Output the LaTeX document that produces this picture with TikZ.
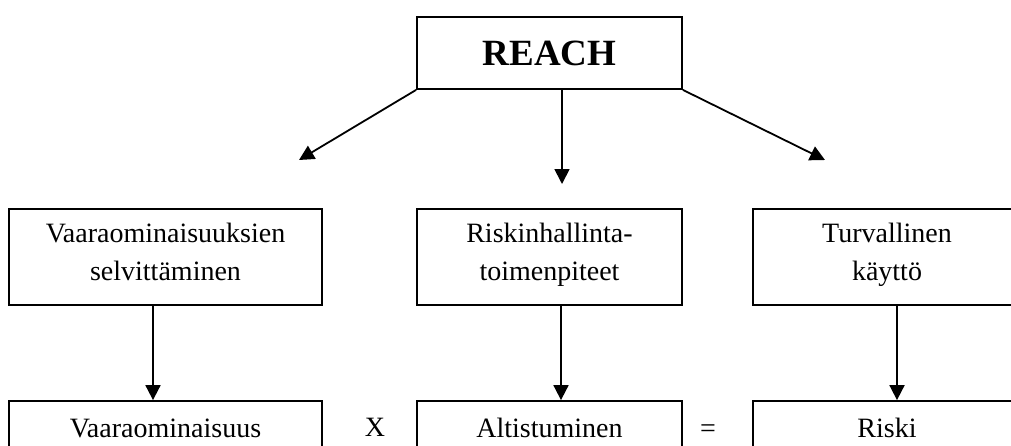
\documentclass[tikz,border=0pt]{standalone}
\usepackage{fontspec}
\setmainfont{Liberation Serif}
\usetikzlibrary{arrows.meta}
\tikzset{
laatikko/.style={draw, line width=1.8pt, align=center, inner sep=0pt},
teksti/.style={laatikko, font=\fontsize{28}{38}\selectfont, execute at begin node=\strut, execute at end node=\strut},
nuoli/.style={line width=1.8pt, -{Triangle[length=15pt,width=15pt]}}
}
\begin{document}
\begin{tikzpicture}[x=1pt,y=-1pt]
\useasboundingbox (0,0) rectangle (1011,445);
\node[laatikko, font=\fontsize{37}{44}\selectfont\bfseries, minimum width=265pt, minimum height=72pt] (reach) at (549.5,53) {REACH};
% keskirivi
\node[teksti, minimum width=313pt, minimum height=96pt] (vaarat) at (165.5,257) {Vaaraominaisuuksien\\selvitt\"aminen};
\node[teksti, minimum width=265pt, minimum height=96pt] (hallinta) at (549.5,257) {Riskinhallinta-\\toimenpiteet};
\node[teksti, minimum width=268pt, minimum height=96pt] (kaytto) at (887,257) {Turvallinen\\k\"aytt\"o};
% alarivi
\node[teksti, minimum width=313pt, minimum height=57pt] (vaara) at (165.5,429.5) {Vaaraominaisuus};
\node[teksti, minimum width=265pt, minimum height=57pt] (altistus) at (549.5,429.5) {Altistuminen};
\node[teksti, minimum width=268pt, minimum height=57pt] (riski) at (887,429.5) {Riski};
\node[font=\fontsize{28}{38}\selectfont] (kerto) at (375,427) {X};
\node[font=\fontsize{28}{38}\selectfont] (on) at (708,431) {=};
% nuolet
\coordinate (vasen) at (299,160);
\coordinate (keski) at (562,184);
\coordinate (oikea) at (825,160);
\draw[nuoli] (reach.south west) -- (vasen);
\draw[nuoli] (reach.south -| keski) -- (keski);
\draw[nuoli] (reach.south east) -- (oikea);
\draw[nuoli] ([xshift=-12.5pt]vaarat.south) -- ([xshift=-12.5pt]vaara.north);
\draw[nuoli] ([xshift=11.5pt]hallinta.south) -- ([xshift=11.5pt]altistus.north);
\draw[nuoli] ([xshift=10pt]kaytto.south) -- ([xshift=10pt]riski.north);
\end{tikzpicture}
\end{document}
